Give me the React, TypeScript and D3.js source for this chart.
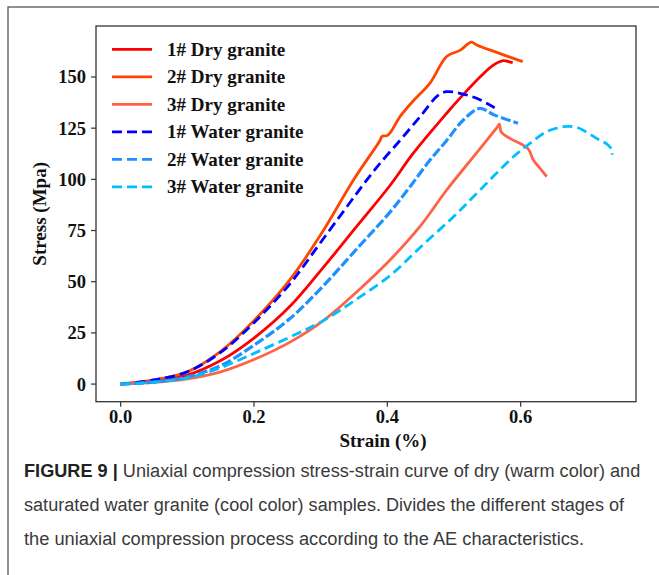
import React, { useLayoutEffect, useRef, useState } from "react";
import * as d3 from "d3";

// Stress-strain readings (strain in %, stress in MPa)
const dry1Strain = [0, 0.05, 0.1, 0.15, 0.2, 0.254, 0.304, 0.354, 0.404, 0.439, 0.489, 0.511, 0.539, 0.559, 0.574, 0.582, 0.588];
const dry1Stress = [0, 1.5, 4.4, 11.5, 22.5, 38, 57, 77, 97, 112.8, 132.3, 140.4, 150, 155.8, 158, 157.5, 157];

const dry2Strain = [0, 0.05, 0.1, 0.15, 0.2, 0.254, 0.304, 0.349, 0.389, 0.392, 0.401, 0.419, 0.438, 0.464, 0.489, 0.509, 0.526, 0.534, 0.564, 0.603];
const dry2Stress = [0, 2, 6, 16, 31, 51, 75, 99.6, 119, 121, 121.6, 130.6, 138, 147, 160, 163, 167, 165.6, 162, 157.5];

const dry3Strain = [0, 0.05, 0.1, 0.15, 0.2, 0.254, 0.304, 0.354, 0.404, 0.449, 0.489, 0.529, 0.566, 0.568, 0.571, 0.584, 0.611, 0.619, 0.629, 0.639];
const dry3Stress = [0, 0.8, 2.5, 6, 12, 20.5, 31, 45, 60.6, 77, 94.8, 111, 126, 127, 123, 120, 115, 109.4, 105.4, 101.3];

const water1Strain = [0, 0.05, 0.1, 0.15, 0.2, 0.254, 0.304, 0.369, 0.389, 0.419, 0.449, 0.476, 0.489, 0.509, 0.534, 0.561];
const water1Stress = [0, 2, 6, 15.5, 30, 49, 71, 99.6, 107.8, 119, 130.6, 141, 142.8, 142, 139.6, 135];

const water2Strain = [0, 0.05, 0.1, 0.15, 0.2, 0.254, 0.304, 0.354, 0.404, 0.434, 0.464, 0.489, 0.514, 0.539, 0.56, 0.596];
const water2Stress = [0, 1, 3.5, 9, 19, 32, 48, 66, 84, 96.4, 109.4, 119, 129, 134.7, 131.5, 127.4];

const water3Strain = [0, 0.05, 0.1, 0.15, 0.2, 0.254, 0.304, 0.354, 0.404, 0.45, 0.5, 0.539, 0.589, 0.614, 0.639, 0.664, 0.684, 0.714, 0.731, 0.737, 0.737];
const water3Stress = [0, 1, 3, 8, 15, 23, 31, 41.5, 53, 67, 82, 94.8, 111, 117.6, 123.3, 125.7, 125.4, 120, 116.8, 114.3, 112];

const seriesNames = ["1# Dry granite", "2# Dry granite", "3# Dry granite", "1# Water granite", "2# Water granite", "3# Water granite"];
const seriesColors = ["#ff0000", "#ff4500", "#ff6347", "#0000ff", "#1e90ff", "#00bfff"];
const seriesDashed = [false, false, false, true, true, true];
const seriesStrain = [dry1Strain, dry2Strain, dry3Strain, water1Strain, water2Strain, water3Strain];
const seriesStress = [dry1Stress, dry2Stress, dry3Stress, water1Stress, water2Stress, water3Stress];

const xTicks = [0, 0.2, 0.4, 0.6];
const yTicks = [0, 25, 50, 75, 100, 125, 150];

const captionLead = "FIGURE 9 | ";
const captionLines = [
  "Uniaxial compression stress-strain curve of dry (warm color) and",
  "saturated water granite (cool color) samples. Divides the different stages of",
  "the uniaxial compression process according to the AE characteristics.",
];
const captionWidths = [616, 600, 560];
const captionBaselines = [477, 511, 545];

const W = 659;
const H = 575;
const plot = { left: 96, right: 636, top: 26, bottom: 401.7 };
const serif = "'Liberation Serif', 'Times New Roman', serif";
const sans = "'Liberation Sans', Arial, sans-serif";

export default function App() {
  const captionRefs = useRef<(SVGTextElement | null)[]>([]);
  const [captionScale, setCaptionScale] = useState<number[]>([0.9, 0.9, 0.9]);

  // condense each caption line horizontally to its column width
  useLayoutEffect(() => {
    const s = captionRefs.current.map((el, i) => {
      if (!el) return 0.9;
      const len = el.getComputedTextLength();
      return len > 0 ? captionWidths[i] / len : 0.9;
    });
    setCaptionScale(s);
  }, []);

  const x = d3.scaleLinear().domain([-0.037, 0.773]).range([plot.left, plot.right]);
  const y = d3.scaleLinear().domain([-8.6, 174.9]).range([plot.bottom, plot.top]);
  const line = d3
    .line<[number, number]>()
    .x((d) => x(d[0]))
    .y((d) => y(d[1]))
    .curve(d3.curveCatmullRom.alpha(0.5));

  const legendY0 = 49.3;
  const legendStep = 27.5;

  return (
    <svg
      width={W}
      height={H}
      viewBox={`0 0 ${W} ${H}`}
      style={{ position: "absolute", left: 0, top: 0, background: "#fff" }}
    >
      <rect x={0} y={0} width={W} height={H} fill="#fff" />
      {/* outer figure frame */}
      <rect x={8} y={7} width={W + 20} height={H + 20} fill="none" stroke="#555" strokeWidth={1.3} />

      <defs>
        <clipPath id="plotClip">
          <rect x={plot.left} y={plot.top} width={plot.right - plot.left} height={plot.bottom - plot.top} />
        </clipPath>
      </defs>

      {/* curves */}
      <g clipPath="url(#plotClip)">
        {seriesNames.map((name, i) => {
          const pts: [number, number][] = seriesStrain[i].map((s, k) => [s, seriesStress[i][k]]);
          return (
            <path
              key={name}
              d={line(pts) || ""}
              fill="none"
              stroke={seriesColors[i]}
              strokeWidth={i === 4 ? 3.2 : 2.8}
              strokeDasharray={seriesDashed[i] ? (i === 4 ? "10 3" : "10 5") : undefined}
              strokeLinejoin="round"
            />
          );
        })}
      </g>

      {/* axes box */}
      <rect
        x={plot.left}
        y={plot.top}
        width={plot.right - plot.left}
        height={plot.bottom - plot.top}
        fill="none"
        stroke="#333"
        strokeWidth={1.3}
      />

      {/* y ticks */}
      {yTicks.map((t) => (
        <g key={"y" + t}>
          <line x1={plot.left - 5} x2={plot.left} y1={y(t)} y2={y(t)} stroke="#333" strokeWidth={1.2} />
          <text
            x={plot.left - 10}
            y={y(t)}
            dy="0.35em"
            textAnchor="end"
            fontFamily={serif}
            fontWeight="bold"
            fontSize={18.5}
            fill="#111"
          >
            {t}
          </text>
        </g>
      ))}

      {/* x ticks */}
      {xTicks.map((t) => (
        <g key={"x" + t}>
          <line x1={x(t)} x2={x(t)} y1={plot.bottom} y2={plot.bottom + 5} stroke="#333" strokeWidth={1.2} />
          <text
            x={x(t)}
            y={423}
            textAnchor="middle"
            fontFamily={serif}
            fontWeight="bold"
            fontSize={18.5}
            fill="#111"
          >
            {d3.format(".1f")(t)}
          </text>
        </g>
      ))}

      {/* axis titles */}
      <text x={383} y={447} textAnchor="middle" fontFamily={serif} fontWeight="bold" fontSize={19} fill="#111">
        Strain (%)
      </text>
      <text
        transform={`translate(46, ${(plot.top + plot.bottom) / 2}) rotate(-90)`}
        textAnchor="middle"
        fontFamily={serif}
        fontWeight="bold"
        fontSize={19}
        fill="#111"
      >
        Stress (Mpa)
      </text>

      {/* legend */}
      {seriesNames.map((name, i) => {
        const ly = legendY0 + i * legendStep;
        return (
          <g key={"lg" + name}>
            <line
              x1={112}
              x2={152}
              y1={ly}
              y2={ly}
              stroke={seriesColors[i]}
              strokeWidth={2.8}
              strokeDasharray={seriesDashed[i] ? "10 5" : undefined}
            />
            <text x={167} y={ly + 6.3} fontFamily={serif} fontWeight="bold" fontSize={19} fill="#111">
              {name}
            </text>
          </g>
        );
      })}

      {/* caption */}
      {captionLines.map((txt, i) => (
        <g key={"cap" + i} transform={`translate(24, ${captionBaselines[i]}) scale(${captionScale[i]}, 1)`}>
          <text
            ref={(el) => {
              captionRefs.current[i] = el;
            }}
            x={0}
            y={0}
            fontFamily={sans}
            fontSize={19}
            fill="#3a3a3a"
          >
            {i === 0 ? (
              <tspan fontWeight="bold" fill="#222">
                {captionLead}
              </tspan>
            ) : null}
            <tspan>{txt}</tspan>
          </text>
        </g>
      ))}
    </svg>
  );
}
